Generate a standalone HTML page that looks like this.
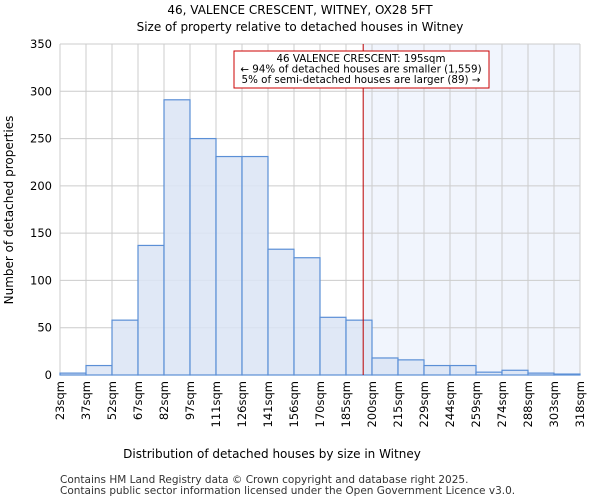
<!DOCTYPE html>
<html><head><meta charset="utf-8"><style>
body{margin:0;background:#fff;font-family:"DejaVu Sans","Liberation Sans",sans-serif}
</style></head><body>
<svg id="chart" width="600" height="500" xmlns="http://www.w3.org/2000/svg" font-family="DejaVu Sans, Liberation Sans, sans-serif">
<text x="300" y="14" text-anchor="middle" font-size="12">46, VALENCE CRESCENT, WITNEY, OX28 5FT</text>
<text x="300" y="31" text-anchor="middle" font-size="12">Size of property relative to detached houses in Witney</text>
<g id="plot"></g>
<text x="272" y="458" text-anchor="middle" font-size="12">Distribution of detached houses by size in Witney</text>
<text transform="translate(13,210) rotate(-90)" text-anchor="middle" font-size="12">Number of detached properties</text>
<text x="60" y="483" font-size="10.5" fill="#333">Contains HM Land Registry data © Crown copyright and database right 2025.</text>
<text x="60" y="494" font-size="10.5" fill="#333">Contains public sector information licensed under the Open Government Licence v3.0.</text>
</svg>
<script>
const binEdges=["23sqm","37sqm","52sqm","67sqm","82sqm","97sqm","111sqm","126sqm","141sqm","156sqm","170sqm","185sqm","200sqm","215sqm","229sqm","244sqm","259sqm","274sqm","288sqm","303sqm","318sqm"];
const counts=[2,10,58,137,291,250,231,231,133,124,61,58,18,16,10,10,3,5,2,1];
const yTicks=[0,50,100,150,200,250,300,350];
const markerValue=195;
const xMin=23, xMax=318;
const L=60,R=580,T=44,B=375,yMax=350;
const NS="http://www.w3.org/2000/svg";
const g=document.getElementById('plot');
const n=counts.length, bw=(R-L)/n;
const xi=i=>L+i*bw;
const xv=v=>L+(v-xMin)/(xMax-xMin)*(R-L);
const y=v=>B-v/yMax*(B-T);
function mk(t,a){const e=document.createElementNS(NS,t);for(const k in a)e.setAttribute(k,a[k]);g.appendChild(e);return e;}
const mx=xv(markerValue);
const sh=mk('rect',{x:mx,y:T,width:R-mx,height:B-T,fill:'#eef2fc',opacity:0.8});


for(let i=0;i<=n;i++){const l=mk('line',{x1:xi(i),x2:xi(i),y1:T,y2:B,stroke:'#ccc','stroke-width':1});

}
yTicks.forEach(t=>{const l=mk('line',{x1:L,x2:R,y1:y(t),y2:y(t),stroke:'#ccc','stroke-width':1});


const tx=mk('text',{x:L-8,y:y(t)+4,'text-anchor':'end','font-size':11.5});tx.textContent=t;

});
counts.forEach((c,i)=>{const r=mk('rect',{x:xi(i),y:y(c),width:bw,height:B-y(c),fill:'#dae4f4','fill-opacity':0.85,stroke:'#5b8fd6','stroke-width':1.2});

});
binEdges.forEach((lab,i)=>{const tx=mk('text',{transform:`translate(${xi(i)+4},381) rotate(-90)`,'text-anchor':'end','font-size':11.5});tx.textContent=lab;

});
const ml=mk('line',{x1:mx,x2:mx,y1:T,y2:B,stroke:'#b00','stroke-width':1});


const box=mk('rect',{x:234,y:51,width:255,height:37,fill:'#fff',stroke:'#c00','stroke-width':1});


["46 VALENCE CRESCENT: 195sqm","← 94% of detached houses are smaller (1,559)","5% of semi-detached houses are larger (89) →"].forEach((s,k)=>{
const tx=mk('text',{x:361,y:62+k*10.5,'text-anchor':'middle','font-size':10.3});tx.textContent=s;

});
</script>
</body></html>
